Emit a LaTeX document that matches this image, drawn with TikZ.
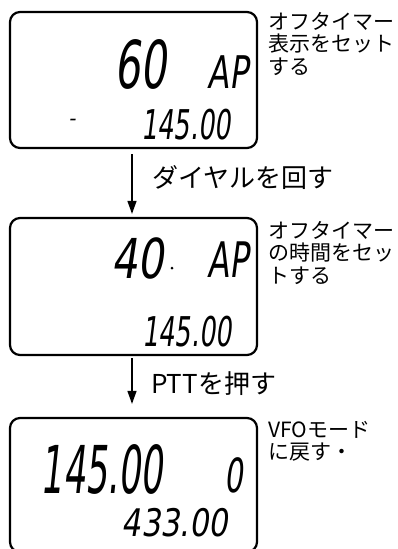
\documentclass[tikz,border=0pt]{standalone}
\usepackage{fontspec}
\setmainfont{Noto Sans CJK JP}
\newfontfamily\lcdfont[FakeSlant=0.2]{DejaVu Sans}
\usetikzlibrary{arrows.meta}
\newcommand{\lcd}[3]{\scalebox{#2}[1]{\lcdfont\fontsize{#1}{#1}\selectfont #3}}
\tikzset{
  lcdbox/.style={draw, line width=2.2pt, rounded corners=10pt, minimum width=247pt, inner sep=0pt},
  note/.style={anchor=north west, align=left, inner sep=0pt, font=\fontsize{21}{22.5}\selectfont},
  steptext/.style={anchor=base west, inner sep=0pt, font=\fontsize{26}{30}\selectfont},
  flow/.style={line width=1.2pt, -{Triangle[length=13pt,width=9pt]}},
  seg/.style={inner sep=0pt},
}
\begin{document}
\begin{tikzpicture}[x=1pt,y=-1pt]
\clip (0,0) rectangle (398,549);
\fill[white] (0,0) rectangle (398,549);
% boxes
\node[lcdbox, minimum height=136pt] (b1) at (133.5,80) {};
\node[lcdbox, minimum height=137pt] (b2) at (133.5,286.5) {};
\node[lcdbox, minimum height=134pt] (b3) at (133.5,485) {};
% box 1 contents
\node[seg] (d1) at (141,64) {\lcd{66}{0.62}{60}};
\node[seg] (a1) at (228,72) {\lcd{45}{0.7}{AP}};
\node[seg] (m1) at (72,122) {\lcd{20}{1}{-}};
\node[seg] (f1) at (186,125) {\lcd{41}{0.62}{145.00}};
% box 2 contents
\node[seg] (d2) at (138,258) {\lcd{55}{0.75}{40}};
\fill (172,268) circle (1.5pt);
\node[seg] (a2) at (228,260) {\lcd{49}{0.65}{AP}};
\node[seg] (f2) at (187,332) {\lcd{41}{0.62}{145.00}};
% box 3 contents
\node[seg] (f3) at (102,469) {\lcd{66}{0.53}{145.00}};
\node[seg] (z3) at (234,475) {\lcd{47}{0.62}{0}};
\node[seg] (g3) at (175,523) {\lcd{38}{0.8}{433.00}};
% notes
\node[note] (n1) at (268,12) {オフタイマー\\表示をセット\\する};
\node[note] (n2) at (268,221) {オフタイマー\\の時間をセッ\\トする};
\node[note] (n3) at (268,421) {VFOモード\\に戻す・};
% arrows
\draw[flow] ([xshift=-1.5pt,yshift=-5pt]b1.south) -- ([xshift=-1.5pt,yshift=3pt]b2.north);
\draw[flow] ([xshift=-1.5pt,yshift=-2pt]b2.south) -- ([xshift=-1.5pt,yshift=13pt]b3.north);
\node[steptext] (s1) at (152,187) {ダイヤルを回す};
\node[steptext] (s2) at (151,393) {PTTを押す};
\end{tikzpicture}
\end{document}
